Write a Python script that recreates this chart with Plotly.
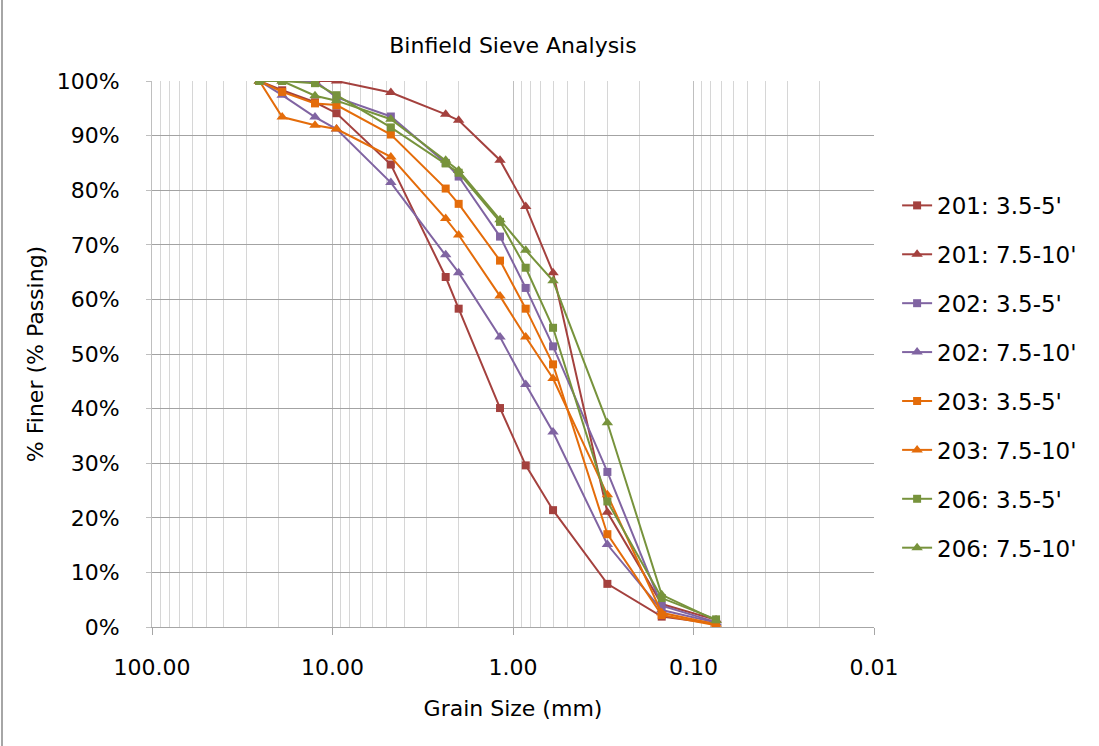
import plotly.graph_objects as go

# ---- data ----
sieve_mm = [25.4, 19.0, 12.5, 9.5, 4.75, 2.36, 2.0, 1.18, 0.85, 0.6, 0.3, 0.15, 0.075]

s201_35 = [100, 98.3, 96.1, 94.1, 84.7, 64.1, 58.3, 40.1, 29.6, 21.4, 7.9, 1.9, 0.6]
s201_75 = [100, 100, 100, 100, 97.9, 93.9, 92.8, 85.5, 77.0, 64.9, 21.0, 4.2, 1.3]
s202_35 = [100, 100, 100, 97.0, 93.5, 85.0, 82.5, 71.5, 62.1, 51.4, 28.4, 3.9, 0.9]
s202_75 = [100, 97.4, 93.4, 91.2, 81.4, 68.2, 64.9, 53.1, 44.4, 35.7, 15.1, 3.1, 0.8]
s203_35 = [100, 98.0, 95.9, 95.6, 90.2, 80.3, 77.5, 67.1, 58.3, 48.1, 17.0, 2.2, 0.3]
s203_75 = [100, 93.4, 91.9, 91.2, 86.1, 74.8, 71.8, 60.6, 53.1, 45.5, 24.2, 2.6, 0.5]
s206_35 = [100, 100, 99.6, 97.4, 91.5, 84.9, 83.2, 74.2, 65.8, 54.8, 23.0, 5.3, 1.4]
s206_75 = [100, 100, 97.3, 96.4, 93.0, 85.5, 83.6, 74.6, 69.0, 63.4, 37.4, 5.9, 1.2]

names = ["201: 3.5-5'", "201: 7.5-10'", "202: 3.5-5'", "202: 7.5-10'",
         "203: 3.5-5'", "203: 7.5-10'", "206: 3.5-5'", "206: 7.5-10'"]
series = [s201_35, s201_75, s202_35, s202_75, s203_35, s203_75, s206_35, s206_75]
colors = ["#A4413E", "#A4413E", "#8064A2", "#8064A2",
          "#E46C0A", "#E46C0A", "#77933C", "#77933C"]
symbols = ["square", "triangle-up"] * 4

x_ticks = [100, 10, 1, 0.1, 0.01]
x_ticktext = ["100.00", "10.00", "1.00", "0.10", "0.01"]

FONT = "DejaVu Sans"

fig = go.Figure()
for i, (nm, ys) in enumerate(zip(names, series)):
    fig.add_trace(go.Scatter(
        x=sieve_mm, y=ys, name=nm, mode="lines+markers",
        legendgroup=f"g{i}",
        line=dict(color=colors[i], width=2),
        marker=dict(symbol=symbols[i], size=8 if symbols[i] == "square" else 10,
                    color=colors[i], line=dict(width=0)),
    ))

minor_vals = [m * 10 ** k for k in range(-2, 2) for m in range(2, 10)]

fig.update_layout(
    width=1099, height=746,
    paper_bgcolor="white", plot_bgcolor="white",
    margin=dict(l=152, r=225, t=81, b=119),
    font=dict(family=FONT, color="#000000"),
    title=dict(text="Binfield Sieve Analysis", x=0.5, xref="paper",
               y=1 - 45 / 746, yanchor="middle",
               font=dict(family=FONT, size=22, color="#000000")),
    showlegend=True,
    legend=dict(x=1.032, xanchor="left", y=0.458, yanchor="middle",
                traceorder="grouped", tracegroupgap=16,
                font=dict(family=FONT, size=23, color="#000000"),
                bgcolor="rgba(0,0,0,0)", itemwidth=30),
    xaxis=dict(
        type="log", range=[2, -2], autorange=False,
        tickmode="array", tickvals=x_ticks, ticktext=x_ticktext,
        showgrid=True, gridcolor="#BFBFBF", gridwidth=1,
        minor=dict(tickmode="array", tickvals=minor_vals, showgrid=True,
                   gridcolor="#D6D6D6", gridwidth=1, ticks=""),
        showline=True, linecolor="#A6A6A6", linewidth=1,
        ticks="outside", ticklen=7, tickcolor="#A6A6A6",
        ticklabelstandoff=14,
        tickfont=dict(family=FONT, size=22, color="#000000"),
        title=dict(text="Grain Size (mm)", standoff=21,
                   font=dict(family=FONT, size=22, color="#000000")),
        zeroline=False,
    ),
    yaxis=dict(
        range=[0, 100], autorange=False, dtick=10, tick0=0,
        ticksuffix="%",
        showgrid=True, gridcolor="#A3A3A3", gridwidth=1,
        showline=True, linecolor="#BFBFBF", linewidth=1,
        ticks="outside", ticklen=5, tickcolor="#BFBFBF",
        ticklabelstandoff=22,
        tickfont=dict(family=FONT, size=22, color="#000000"),
        title=dict(text="% Finer (% Passing)", standoff=6,
                   font=dict(family=FONT, size=22, color="#000000")),
        zeroline=False,
    ),
)

# chart-area border on the left (Excel chart frame)
fig.add_shape(type="line", xref="paper", yref="paper",
              x0=(2 - 152) / 722, x1=(2 - 152) / 722, y0=-119 / 546, y1=1 + 81 / 546,
              line=dict(color="#A6A6A6", width=2))

fig.write_html("out.html")
